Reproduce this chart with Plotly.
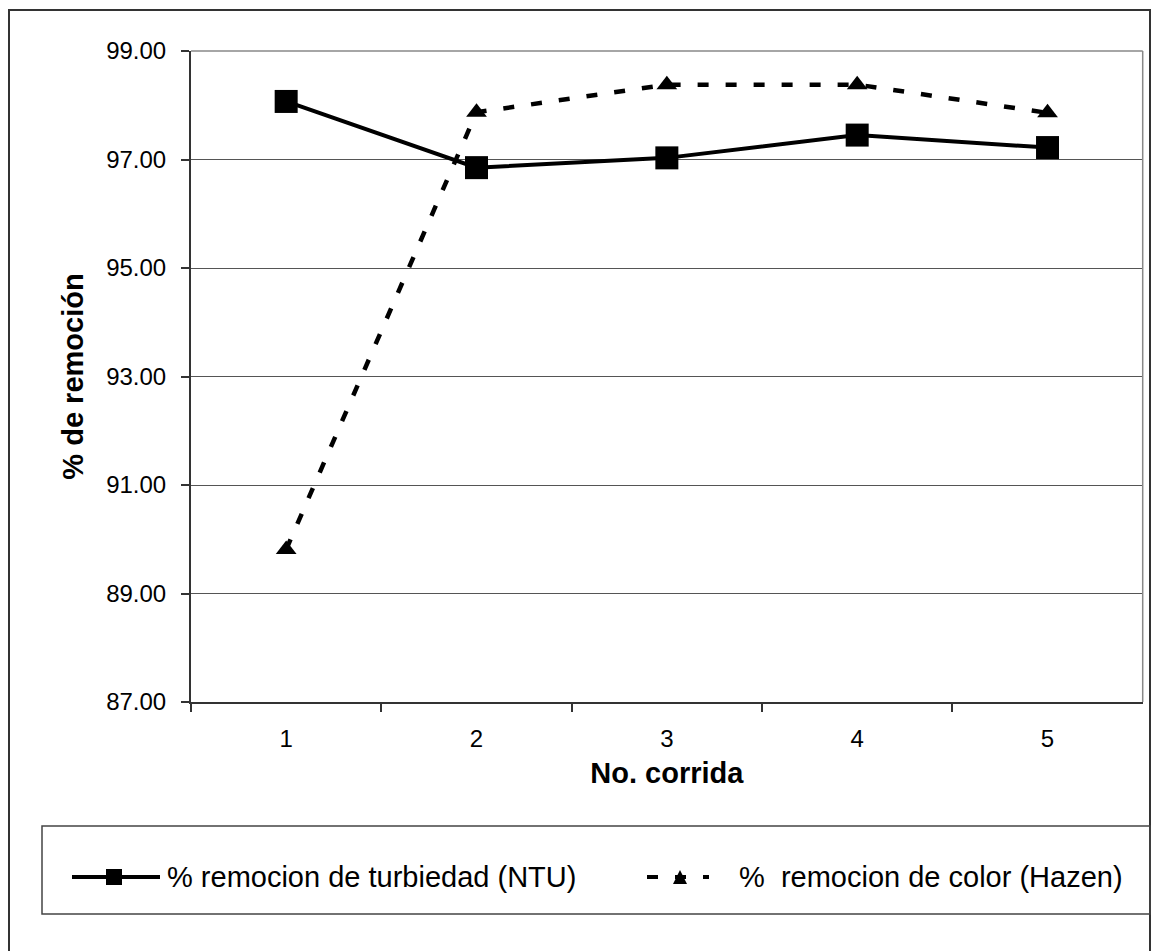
import plotly.graph_objects as go

# ---------------- data ----------------
runs = ["1", "2", "3", "4", "5"]
turbidity_removal = [98.07, 96.85, 97.03, 97.45, 97.22]
color_removal = [89.81, 97.87, 98.38, 98.38, 97.86]
y_ticks = [87, 89, 91, 93, 95, 97, 99]
series_names = ["% remocion de turbiedad (NTU)", "%\u00a0\u00a0remocion de color (Hazen)"]
x_title = "No. corrida"
y_title = "% de remoción"

# ---------------- layout helpers ----------------
W, H = 1152, 951
PL, PR, PT, PB = 191, 1142.7, 51, 702
FONT = "Liberation Sans, Arial, sans-serif"


def px(x):
    return x / W


def py(y):
    return 1 - y / H


fig = go.Figure()
fig.add_trace(go.Scatter(
    x=runs, y=turbidity_removal, name=series_names[0], mode="lines+markers",
    line=dict(color="black", width=4),
    marker=dict(symbol="square", size=23, color="black"),
    showlegend=False, cliponaxis=False,
))
fig.add_trace(go.Scatter(
    x=runs, y=color_removal, name=series_names[1], mode="lines+markers",
    line=dict(color="black", width=4.5, dash="11px,17px"),
    marker=dict(symbol="triangle-up", size=18, color="black"),
    showlegend=False, cliponaxis=False,
))

shapes = [
    # outer chart border
    dict(type="rect", xref="paper", yref="paper", x0=px(9), x1=px(1150), y0=py(10), y1=py(970),
         line=dict(color="#333333", width=2), layer="below"),
    # plot area border (top / right, gray)
    dict(type="line", xref="paper", yref="paper", x0=px(PL), x1=px(PR), y0=py(PT), y1=py(PT),
         line=dict(color="#888888", width=1.5)),
    dict(type="line", xref="paper", yref="paper", x0=px(PR), x1=px(PR), y0=py(PT), y1=py(PB),
         line=dict(color="#888888", width=1.5)),
    # legend box
    dict(type="rect", xref="paper", yref="paper", x0=px(42), x1=px(1150), y0=py(826), y1=py(914),
         line=dict(color="#444444", width=1.5)),
    # legend sample 1
    dict(type="line", xref="paper", yref="paper", x0=px(72), x1=px(160), y0=py(877), y1=py(877),
         line=dict(color="black", width=4)),
    dict(type="rect", xref="paper", yref="paper", x0=px(106), x1=px(122), y0=py(869), y1=py(885),
         fillcolor="black", line=dict(width=0)),
    # legend sample 2
    dict(type="line", xref="paper", yref="paper", x0=px(647), x1=px(709), y0=py(877), y1=py(877),
         line=dict(color="black", width=4, dash="11px,17px")),
    dict(type="path", xref="paper", yref="paper",
         path=f"M {px(673)},{py(884)} L {px(687)},{py(884)} L {px(680)},{py(870)} Z",
         fillcolor="black", line=dict(width=0)),
]

annotations = [
    dict(x=px(165), y=py(877), xref="paper", yref="paper", text=series_names[0], showarrow=False,
         xanchor="left", yanchor="middle", font=dict(family=FONT, size=29, color="black")),
    dict(x=px(737), y=py(877), xref="paper", yref="paper", text=series_names[1], showarrow=False,
         xanchor="left", yanchor="middle", font=dict(family=FONT, size=29, color="black")),
]

fig.update_layout(
    width=W, height=H,
    margin=dict(l=0, r=0, t=0, b=0),
    paper_bgcolor="white", plot_bgcolor="white",
    font=dict(family=FONT, color="black"),
    showlegend=False,
    shapes=shapes, annotations=annotations,
    xaxis=dict(
        type="category", domain=[px(PL), px(PR)], range=[-0.5, 4.5],
        tickson="boundaries", ticks="outside", ticklen=8, tickwidth=1.5, tickcolor="#333333",
        showline=True, linecolor="#333333", linewidth=2, showgrid=False, zeroline=False,
        tickfont=dict(size=24, family=FONT, color="black"), ticklabelstandoff=14,
        title=dict(text=x_title, font=dict(size=29, family=FONT, color="black", weight="bold"), standoff=12),
        automargin=False,
    ),
    yaxis=dict(
        domain=[py(PB), py(PT)], range=[87, 99], tickvals=y_ticks, tickformat=".2f",
        ticks="outside", ticklen=8, tickwidth=1.5, tickcolor="#333333",
        showline=True, linecolor="#333333", linewidth=2,
        showgrid=True, gridcolor="#555555", gridwidth=1, zeroline=False,
        tickfont=dict(size=24, family=FONT, color="black"), ticklabelstandoff=10,
        title=dict(text=y_title, font=dict(size=29, family=FONT, color="black", weight="bold"), standoff=14),
        automargin=False,
    ),
)

fig.write_html("out.html")
